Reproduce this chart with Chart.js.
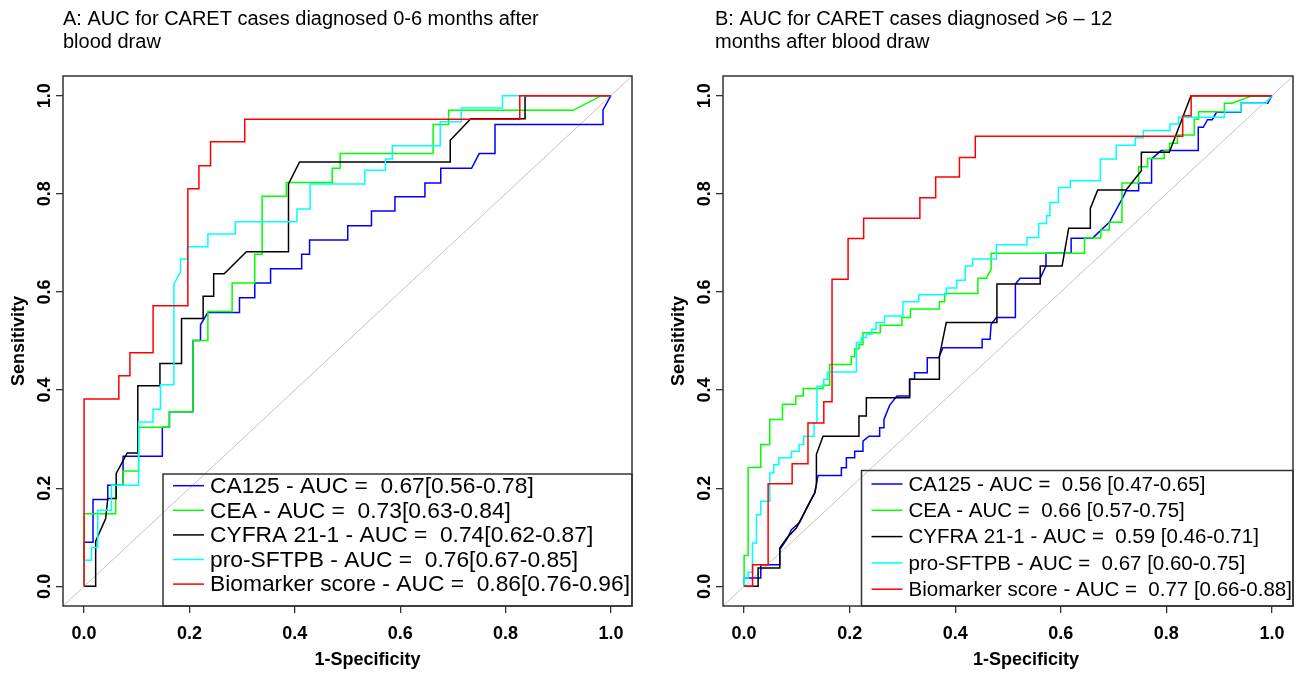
<!DOCTYPE html>
<html>
<head>
<meta charset="utf-8">
<script src="https://cdn.jsdelivr.net/npm/chart.js@4.4.0/dist/chart.umd.min.js"></script>
<style>
  html, body { margin: 0; padding: 0; background: #fff; }
  #wrap { position: relative; width: 1300px; height: 675px; overflow: hidden; }
  canvas { position: absolute; top: 0; }
  #rocA { left: 0; }
  #rocB { left: 650px; }
</style>
</head>
<body>
<div id="wrap">
  <canvas id="rocA" width="650" height="675"></canvas>
  <canvas id="rocB" width="650" height="675"></canvas>
</div>
<script>
// ROC curves, points are [1-specificity, sensitivity]
const TICKS = [0, 0.2, 0.4, 0.6, 0.8, 1.0];
const DIAGONAL = [[-0.04, -0.04], [1.04, 1.04]];

// panel A: cases diagnosed 0-6 months after blood draw
const TITLE_A = ['A: AUC for CARET cases diagnosed 0-6 months after', 'blood draw'];
const LEGEND_A = [
  'CA125 - AUC =  0.67[0.56-0.78]',
  'CEA - AUC =  0.73[0.63-0.84]',
  'CYFRA 21-1 - AUC =  0.74[0.62-0.87]',
  'pro-SFTPB - AUC =  0.76[0.67-0.85]',
  'Biomarker score - AUC =  0.86[0.76-0.96]'
];
const A_CA125 = [[0,0],[0,0.090],[0.017,0.090],[0.017,0.177],[0.045,0.177],[0.045,0.206],[0.074,0.206],[0.074,0.265],
  [0.1485,0.265],[0.1485,0.324],[0.162,0.324],[0.162,0.356],[0.207,0.356],[0.207,0.501],[0.221,0.501],[0.221,0.533],
  [0.235,0.558],[0.295,0.558],[0.295,0.588],[0.324,0.588],[0.324,0.618],[0.354,0.618],[0.354,0.647],[0.413,0.647],
  [0.413,0.677],[0.428,0.677],[0.428,0.706],[0.5005,0.706],[0.5005,0.735],[0.5455,0.735],[0.5455,0.765],[0.590,0.765],
  [0.590,0.794],[0.647,0.794],[0.647,0.822],[0.677,0.822],[0.677,0.852],[0.7355,0.852],[0.750,0.882],[0.780,0.882],
  [0.780,0.941],[0.985,0.941],[0.985,0.971],[1,1]];
const A_CEA = [[0,0],[0,0.148],[0.060,0.148],[0.060,0.206],[0.074,0.206],[0.074,0.235],[0.1035,0.235],[0.1035,0.324],
  [0.162,0.324],[0.162,0.356],[0.207,0.356],[0.207,0.501],[0.235,0.501],[0.235,0.560],[0.281,0.560],[0.281,0.618],
  [0.324,0.618],[0.324,0.677],[0.338,0.677],[0.338,0.795],[0.384,0.795],[0.384,0.823],[0.471,0.823],[0.471,0.852],
  [0.486,0.852],[0.486,0.882],[0.6625,0.882],[0.6625,0.941],[0.692,0.941],[0.692,0.970],[0.928,0.970],[0.982,1],[1,1]];
const A_CYFRA = [[0,0],[0.022,0],[0.022,0.092],[0.041,0.138],[0.045,0.179],[0.061,0.179],[0.061,0.230],[0.082,0.272],
  [0.102,0.272],[0.102,0.409],[0.144,0.409],[0.144,0.454],[0.185,0.454],[0.185,0.546],[0.226,0.546],[0.226,0.591],
  [0.246,0.591],[0.246,0.637],[0.266,0.637],[0.308,0.682],[0.388,0.682],[0.388,0.820],[0.409,0.865],[0.695,0.865],
  [0.695,0.909],[0.734,0.953],[0.837,0.953],[0.837,1],[1,1]];
const A_SFTPB = [[0,0],[0,0.053],[0.014,0.053],[0.014,0.079],[0.026,0.079],[0.026,0.155],[0.052,0.155],[0.052,0.206],
  [0.1035,0.206],[0.1035,0.335],[0.131,0.335],[0.131,0.361],[0.145,0.361],[0.145,0.411],[0.1705,0.411],[0.1705,0.616],
  [0.183,0.641],[0.183,0.667],[0.196,0.667],[0.196,0.692],[0.235,0.692],[0.235,0.718],[0.287,0.718],[0.287,0.743],
  [0.404,0.743],[0.404,0.769],[0.429,0.769],[0.429,0.820],[0.533,0.820],[0.533,0.848],[0.572,0.848],[0.572,0.871],
  [0.585,0.871],[0.585,0.898],[0.676,0.898],[0.676,0.947],[0.716,0.947],[0.716,0.975],[0.794,0.975],[0.794,1],[1,1]];
const A_SCORE = [[0,0],[0,0.382],[0.066,0.382],[0.066,0.429],[0.087,0.429],[0.087,0.476],[0.131,0.476],[0.131,0.572],
  [0.197,0.572],[0.197,0.810],[0.218,0.810],[0.218,0.857],[0.240,0.857],[0.240,0.906],[0.305,0.906],[0.305,0.952],
  [0.827,0.952],[0.827,1],[1,1]];

// panel B: cases diagnosed >6 - 12 months after blood draw
const TITLE_B = ['B: AUC for CARET cases diagnosed >6 \u2013 12', 'months after blood draw'];
const LEGEND_B = [
  'CA125 - AUC =  0.56 [0.47-0.65]',
  'CEA - AUC =  0.66 [0.57-0.75]',
  'CYFRA 21-1 - AUC =  0.59 [0.46-0.71]',
  'pro-SFTPB - AUC =  0.67 [0.60-0.75]',
  'Biomarker score - AUC =  0.77 [0.66-0.88]'
];
const B_CA125 = [[0,0],[0,0.017],[0.0316,0.017],[0.0316,0.0443],[0.0676,0.0443],[0.0676,0.075],[0.0814,0.0967],
  [0.0897,0.1157],[0.1054,0.1306],[0.12,0.163],[0.134,0.1906],[0.140,0.226],[0.1843,0.226],[0.1843,0.2416],
  [0.1938,0.2416],[0.1938,0.262],[0.2095,0.262],[0.2095,0.2755],[0.2252,0.2755],[0.2252,0.296],[0.2366,0.306],
  [0.2568,0.306],[0.2568,0.323],[0.265,0.323],[0.265,0.340],[0.2757,0.3688],[0.2896,0.388],[0.3136,0.388],
  [0.3136,0.422],[0.323,0.422],[0.323,0.4355],[0.347,0.4355],[0.347,0.466],[0.369,0.466],[0.3766,0.4865],
  [0.451,0.4865],[0.451,0.5035],[0.466,0.5035],[0.468,0.534],[0.478,0.548],[0.514,0.548],[0.514,0.616],
  [0.523,0.628],[0.561,0.628],[0.572,0.653],[0.572,0.679],[0.6196,0.679],[0.6196,0.7096],[0.6605,0.7096],
  [0.676,0.726],[0.692,0.742],[0.716,0.789],[0.7237,0.806],[0.7475,0.806],[0.7475,0.822],[0.772,0.822],
  [0.772,0.871],[0.790,0.888],[0.8605,0.888],[0.8605,0.9355],[0.870,0.9355],[0.878,0.951],[0.887,0.951],
  [0.895,0.966],[0.941,0.966],[0.941,0.9845],[0.992,0.9845],[1,1]];
const B_CEA = [[0,0],[0,0.063],[0.0076,0.063],[0.0076,0.242],[0.0316,0.242],[0.0316,0.289],[0.0486,0.289],
  [0.0486,0.340],[0.0726,0.340],[0.0726,0.371],[0.098,0.371],[0.098,0.388],[0.112,0.388],[0.112,0.403],
  [0.1496,0.403],[0.1496,0.41],[0.162,0.41],[0.162,0.452],[0.203,0.452],[0.203,0.468],[0.2095,0.468],
  [0.2095,0.484],[0.2177,0.484],[0.2177,0.493],[0.2253,0.493],[0.2253,0.517],[0.258,0.517],[0.258,0.532],
  [0.299,0.532],[0.299,0.548],[0.315,0.548],[0.315,0.565],[0.370,0.565],[0.370,0.580],[0.380,0.580],
  [0.380,0.597],[0.443,0.597],[0.443,0.628],[0.459,0.628],[0.468,0.646],[0.468,0.679],[0.645,0.679],
  [0.645,0.710],[0.676,0.710],[0.676,0.726],[0.692,0.726],[0.692,0.742],[0.716,0.742],[0.716,0.822],
  [0.7475,0.822],[0.7475,0.855],[0.7645,0.855],[0.7645,0.872],[0.796,0.872],[0.796,0.888],[0.806,0.888],
  [0.806,0.903],[0.821,0.903],[0.821,0.920],[0.853,0.920],[0.853,0.952],[0.861,0.952],[0.861,0.967],
  [0.910,0.967],[0.910,0.9845],[0.925,0.9845],[0.963,1],[1,1]];
const B_CYFRA = [[0,0],[0.0265,0],[0.0265,0.0375],[0.0676,0.0375],[0.0676,0.078],[0.0814,0.099],[0.099,0.119],
  [0.134,0.191],[0.137,0.2075],[0.137,0.269],[0.1495,0.306],[0.2176,0.306],[0.2176,0.347],[0.2316,0.347],
  [0.2316,0.3845],[0.3136,0.3845],[0.3136,0.422],[0.370,0.422],[0.370,0.469],[0.383,0.5375],[0.479,0.5375],
  [0.479,0.616],[0.561,0.616],[0.561,0.653],[0.6025,0.653],[0.615,0.730],[0.656,0.730],[0.656,0.770],
  [0.670,0.8076],[0.7237,0.8076],[0.7527,0.847],[0.7527,0.8845],[0.8056,0.8845],[0.8467,1],[1,1]];
const B_SFTPB = [[0,0],[0,0.017],[0.0076,0.017],[0.0076,0.029],[0.0159,0.029],[0.0159,0.0886],[0.0234,0.0886],
  [0.0234,0.146],[0.0316,0.146],[0.0316,0.1735],[0.0486,0.1735],[0.0486,0.231],[0.0562,0.231],[0.0562,0.248],
  [0.0657,0.248],[0.0657,0.262],[0.0897,0.262],[0.0897,0.2755],[0.1042,0.2755],[0.1042,0.289],[0.113,0.289],
  [0.113,0.306],[0.1325,0.306],[0.1325,0.3335],[0.138,0.3335],[0.138,0.408],[0.151,0.408],[0.151,0.422],
  [0.158,0.422],[0.158,0.437],[0.2127,0.437],[0.2127,0.497],[0.222,0.497],[0.222,0.507],[0.2317,0.507],
  [0.2317,0.514],[0.242,0.514],[0.242,0.524],[0.250,0.524],[0.250,0.5375],[0.266,0.5375],[0.266,0.551],
  [0.301,0.551],[0.301,0.580],[0.331,0.580],[0.331,0.594],[0.383,0.594],[0.383,0.608],[0.403,0.608],
  [0.403,0.624],[0.419,0.624],[0.419,0.653],[0.433,0.653],[0.433,0.667],[0.478,0.667],[0.478,0.696],
  [0.536,0.696],[0.536,0.711],[0.558,0.711],[0.558,0.7396],[0.573,0.7396],[0.573,0.755],[0.5795,0.755],
  [0.5795,0.782],[0.5956,0.782],[0.5956,0.813],[0.618,0.813],[0.618,0.8265],[0.675,0.8265],[0.675,0.871],
  [0.705,0.871],[0.705,0.899],[0.741,0.899],[0.741,0.914],[0.7565,0.914],[0.7565,0.929],[0.807,0.929],
  [0.807,0.942],[0.823,0.942],[0.823,0.956],[0.910,0.956],[0.910,0.967],[0.941,0.967],[0.941,0.9845],
  [0.989,0.9845],[1,1]];
const B_SCORE = [[0,0],[0.016,0],[0.016,0.044],[0.0455,0.044],[0.0455,0.209],[0.091,0.209],[0.091,0.250],
  [0.121,0.250],[0.121,0.333],[0.151,0.333],[0.151,0.376],[0.1666,0.376],[0.1666,0.626],[0.197,0.626],
  [0.197,0.709],[0.2265,0.709],[0.2265,0.750],[0.333,0.750],[0.333,0.792],[0.363,0.792],[0.363,0.834],
  [0.408,0.834],[0.408,0.874],[0.438,0.874],[0.438,0.917],[0.831,0.917],[0.831,0.959],[0.847,0.959],
  [0.847,1],[1,1]];

// same order as the legends: CA125, CEA, CYFRA 21-1, pro-SFTPB, score
const COLORS = ['#0000ff', '#00ff00', '#000000', '#00ffff', '#ff0000'];
const FONT = '"Liberation Sans", Arial, Helvetica, sans-serif';

function toXY(pairs) {
  return pairs.map(p => ({ x: p[0], y: p[1] }));
}

// frame, rotated y labels, titles and the R-style legend
const rocDecor = {
  id: 'rocDecor',
  afterDraw(chart, args, o) {
    const ctx = chart.ctx;
    const a = chart.chartArea;
    const ys = chart.scales.y;
    ctx.save();

    ctx.strokeStyle = '#333';
    ctx.lineWidth = 1.5;
    ctx.strokeRect(a.left, a.top, a.right - a.left, a.bottom - a.top);

    ctx.fillStyle = '#000';
    ctx.font = 'bold 18px ' + FONT;
    ctx.textAlign = 'center';
    ctx.textBaseline = 'middle';
    ys.ticks.forEach(t => {
      ctx.save();
      ctx.translate(a.left - 19, ys.getPixelForValue(t.value));
      ctx.rotate(-Math.PI / 2);
      ctx.fillText(t.value.toFixed(1), 0, 1);
      ctx.restore();
    });
    ctx.fillText('1-Specificity', (a.left + a.right) / 2 + o.xTitleShift, 660);

    ctx.textAlign = 'left';
    ctx.font = o.titleSize + 'px ' + FONT;
    o.title.forEach((line, i) => ctx.fillText(line, o.titleX, 19 + i * 23));

    const lg = o.legend;
    const bx = a.right - lg.width;
    const by = a.bottom - lg.height;
    ctx.strokeStyle = '#333';
    ctx.lineWidth = 1.5;
    ctx.strokeRect(bx, by, lg.width, lg.height);
    ctx.font = lg.size + 'px ' + FONT;
    chart.data.datasets.filter(d => d.inLegend).forEach((d, i) => {
      const ry = by + lg.first + i * lg.step;
      ctx.strokeStyle = d.borderColor;
      ctx.beginPath();
      ctx.moveTo(bx + 10, ry);
      ctx.lineTo(bx + 41, ry);
      ctx.stroke();
      ctx.fillStyle = '#000';
      ctx.fillText(d.label, bx + 47, ry + 1);
    });
    ctx.restore();
  }
};

function axis(extra) {
  return Object.assign({
    type: 'linear',
    min: -0.04,
    max: 1.04,
    afterBuildTicks: s => { s.ticks = TICKS.map(v => ({ value: v })); },
    grid: { drawOnChartArea: false, drawTicks: true, tickLength: 7, color: '#333', lineWidth: 1.3 },
    border: { display: false }
  }, extra);
}

function buildRoc(id, curves, labels, decor, pad) {
  const datasets = curves.map((c, i) => ({
    label: labels[i],
    data: toXY(c),
    borderColor: COLORS[i],
    borderWidth: 1.5,
    pointRadius: 0,
    tension: 0,
    fill: false,
    order: curves.length - i,
    inLegend: true
  }));
  datasets.push({
    label: 'chance',
    data: toXY(DIAGONAL),
    borderColor: '#c4c4c4',
    borderWidth: 1,
    pointRadius: 0,
    order: 99,
    inLegend: false
  });

  return new Chart(document.getElementById(id), {
    type: 'line',
    data: { datasets: datasets },
    options: {
      responsive: false,
      animation: false,
      devicePixelRatio: 1,
      layout: { padding: pad },
      plugins: { legend: { display: false }, tooltip: { enabled: false }, rocDecor: decor },
      scales: {
        x: axis({
          afterFit: s => { s.height = 69; },
          ticks: {
            autoSkip: false, maxRotation: 0, padding: 10, color: '#000',
            font: { family: FONT, size: 18, weight: 'bold' },
            callback: v => v.toFixed(1)
          }
        }),
        y: axis({
          afterFit: s => { s.width = 63; },
          ticks: { display: false },
          title: {
            display: true, text: 'Sensitivity', color: '#000',
            font: { family: FONT, size: 18, weight: 'bold' },
            padding: { top: 8, bottom: 0 }
          }
        })
      }
    },
    plugins: [rocDecor]
  });
}

buildRoc('rocA', [A_CA125, A_CEA, A_CYFRA, A_SFTPB, A_SCORE], LEGEND_A, {
  title: TITLE_A, titleX: 63, titleSize: 20, xTitleShift: 20,
  legend: { width: 469, height: 132, first: 11.7, step: 24.6, size: 22.8 }
}, { left: 0, top: 76, right: 18, bottom: 0 });

buildRoc('rocB', [B_CA125, B_CEA, B_CYFRA, B_SFTPB, B_SCORE], LEGEND_B, {
  title: TITLE_B, titleX: 65, titleSize: 20, xTitleShift: 18,
  legend: { width: 431.5, height: 135.5, first: 13.5, step: 26.3, size: 20.5 }
}, { left: 10, top: 76, right: 7, bottom: 0 });
</script>
</body>
</html>
